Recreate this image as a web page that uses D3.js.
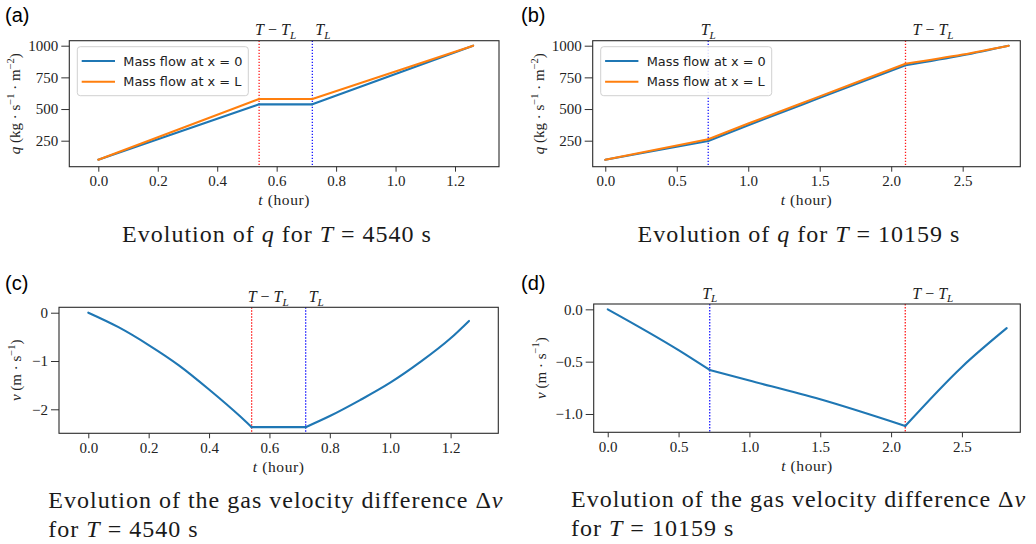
<!DOCTYPE html>
<html>
<head>
<meta charset="utf-8">
<script src="https://cdn.jsdelivr.net/npm/d3@7"></script>
<style>
  body { margin: 0; background: #fff; }
  svg { display: block; }
</style>
</head>
<body>
<svg id="fig" width="1036" height="544"></svg>
<script>
// ---- data ----
const hoursA   = [0, 0.541, 0.72, 1.261];
const qInletA  = [100, 537, 537, 1000];
const qOutletA = [100, 579, 579, 1000];

const hoursB   = [0, 0.72, 1.0, 1.5, 2.1, 2.5, 2.822];
const qInletB  = [100, 248, 372, 588, 845, 924, 1000];
const qOutletB = [100, 262, 385, 600, 858, 930, 1000];

const hoursC = [0, 0.1, 0.2, 0.3, 0.4, 0.5, 0.541, 0.72, 0.8, 0.9, 1.0, 1.1, 1.2, 1.261];
const dvC    = [0, -0.30, -0.67, -1.09, -1.59, -2.13, -2.37, -2.37, -2.14, -1.81, -1.45, -1.02, -0.53, -0.17];

const hoursD = [0, 0.5, 0.72, 1.0, 1.5, 2.1, 2.5, 2.816];
const dvD    = [0, -0.39, -0.58, -0.68, -0.86, -1.115, -0.55, -0.18];

// T_L and T - T_L (hours)
const marksShort = { TL: 0.72, TmTL: 0.541 };   // T = 4540 s
const marksLong  = { TL: 0.72, TmTL: 2.10 };    // T = 10159 s

const xTicksShort = [0, 0.2, 0.4, 0.6, 0.8, 1.0, 1.2];
const xTicksLong  = [0, 0.5, 1.0, 1.5, 2.0, 2.5];
const qTicks      = [250, 500, 750, 1000];
const dvTicksC    = [0, -1, -2];
const dvTicksD    = [0, -0.5, -1.0];

const seriesNames = ["Mass flow at x = 0", "Mass flow at x = L"];

const C_BLUE = "#1f77b4", C_ORANGE = "#ff7f0e";
const SERIF = "'Liberation Serif', 'DejaVu Serif', serif";
const SANS  = "'DejaVu Sans', sans-serif";

const svg = d3.select("#fig");

// text with italic / sup / sub parts: [[str, kind]]
function richText(sel, parts, size) {
  let shift = 0;
  parts.forEach(([s, kind]) => {
    const t = sel.append("tspan").text(s);
    let target = 0, fs = size;
    if (kind && kind.includes("sup")) { target = -0.42 * size; fs = size * 0.7; }
    if (kind && kind.includes("sub")) { target = 0.24 * size; fs = size * 0.7; }
    if (kind && kind.includes("i")) t.attr("font-style", "italic");
    t.attr("font-size", fs).attr("dy", target - shift);
    shift = target;
  });
  return sel;
}

const Q_LABEL = [["q", "i"], [" (kg · s"], ["−1", "sup"], [" · m"], ["−2", "sup"], [")"]];
const V_LABEL = [["v", "i"], [" (m · s"], ["−1", "sup"], [")"]];
const TM_LABEL = [["T", "i"], [" − "], ["T", "i"], ["L", "i sub"]];
const TL_LABEL = [["T", "i"], ["L", "i sub"]];

const panels = [
  {
    tag: "(a)", tagX: 5, tagY: 22,
    box: [69.3, 499, 40.7, 166.7], xDomain: [-0.0976, 1.348], yDomain: [44.7, 1039.5],
    xTicks: xTicksShort, yTicks: qTicks, xFmt: d3.format(".1f"), yFmt: d3.format("d"),
    series: [{ x: hoursA, y: qInletA, c: C_BLUE }, { x: hoursA, y: qOutletA, c: C_ORANGE }],
    marks: marksShort, tmLabel: { anchor: "start", dx: -4 }, tlLabel: { anchor: "start", dx: 3 },
    ylabel: Q_LABEL, ylabelX: 20, legend: true,
    title: [[["Evolution of "], ["q", "i"], [" for "], ["T", "i"], [" = 4540 s"]]], titleX: 277, titleAnchor: "middle", titleY: 241.7
  },
  {
    tag: "(b)", tagX: 521, tagY: 22,
    box: [592.7, 1020.3, 40.7, 166.7], xDomain: [-0.088, 2.903], yDomain: [44.7, 1039.5],
    xTicks: xTicksLong, yTicks: qTicks, xFmt: d3.format(".1f"), yFmt: d3.format("d"),
    series: [{ x: hoursB, y: qInletB, c: C_BLUE }, { x: hoursB, y: qOutletB, c: C_ORANGE }],
    marks: marksLong, tmLabel: { anchor: "start", dx: 7 }, tlLabel: { anchor: "middle", dx: 0 },
    ylabel: Q_LABEL, ylabelX: 544, legend: true,
    title: [[["Evolution of "], ["q", "i"], [" for "], ["T", "i"], [" = 10159 s"]]], titleX: 799, titleAnchor: "middle", titleY: 241.7
  },
  {
    tag: "(c)", tagX: 5, tagY: 290,
    box: [59, 498.3, 307.3, 433.3], xDomain: [-0.097, 1.358], yDomain: [-2.497, 0.112],
    xTicks: xTicksShort, yTicks: dvTicksC, xFmt: d3.format(".1f"), yFmt: d3.format("d"),
    series: [{ x: hoursC, y: dvC, c: C_BLUE }],
    marks: marksShort, tmLabel: { anchor: "start", dx: -4 }, tlLabel: { anchor: "start", dx: 3 },
    ylabel: V_LABEL, ylabelX: 21, legend: false,
    title: [[["Evolution of the gas velocity difference Δ"], ["v", "i"]], [["for "], ["T", "i"], [" = 4540 s"]]],
    titleX: 48.3, titleAnchor: "start", titleY: 508.3
  },
  {
    tag: "(d)", tagX: 521, tagY: 290,
    box: [593.7, 1020.3, 304, 432.3], xDomain: [-0.099, 2.912], yDomain: [-1.175, 0.051],
    xTicks: xTicksLong, yTicks: dvTicksD, xFmt: d3.format(".1f"), yFmt: d3.format(".1f"),
    series: [{ x: hoursD, y: dvD, c: C_BLUE }],
    marks: marksLong, tmLabel: { anchor: "start", dx: 7 }, tlLabel: { anchor: "middle", dx: 0 },
    ylabel: V_LABEL, ylabelX: 545.5, legend: false,
    title: [[["Evolution of the gas velocity difference Δ"], ["v", "i"]], [["for "], ["T", "i"], [" = 10159 s"]]],
    titleX: 571, titleAnchor: "start", titleY: 507.3
  }
];

// split a series at the T_L / T - T_L kinks so each piece can be smoothed on its own
function pieces(xs, ys, breaks) {
  const pts = d3.zip(xs, ys), out = [];
  let cur = [];
  pts.forEach(pt => {
    cur.push(pt);
    if (breaks.some(b => Math.abs(b - pt[0]) < 1e-3)) { out.push(cur); cur = [pt]; }
  });
  if (cur.length > 1) out.push(cur);
  return out;
}

panels.forEach(p => {
  const [x0, x1, y0, y1] = p.box;
  const x = d3.scaleLinear().domain(p.xDomain).range([x0, x1]);
  const y = d3.scaleLinear().domain(p.yDomain).range([y1, y0]);
  const g = svg.append("g");

  // panel tag
  g.append("text").attr("x", p.tagX).attr("y", p.tagY)
    .attr("font-family", "'Liberation Sans', Arial, sans-serif").attr("font-size", 20)
    .text(p.tag);

  // axes
  const xa = g.append("g").attr("transform", `translate(0,${y1})`)
    .call(d3.axisBottom(x).tickValues(p.xTicks).tickFormat(p.xFmt).tickSize(5).tickPadding(4));
  const ya = g.append("g").attr("transform", `translate(${x0},0)`)
    .call(d3.axisLeft(y).tickValues(p.yTicks).tickFormat(p.yFmt).tickSize(8).tickPadding(3));
  [xa, ya].forEach(a => {
    a.select(".domain").remove();
    a.selectAll("line").attr("stroke", "#333").attr("stroke-width", 1);
    a.selectAll("text").attr("font-family", SERIF).attr("font-size", 15).attr("fill", "#222");
  });

  // clip + lines
  const clipId = "clip" + p.tag.replace(/\W/g, "");
  g.append("clipPath").attr("id", clipId).append("rect")
    .attr("x", x0).attr("y", y0).attr("width", x1 - x0).attr("height", y1 - y0);
  const plot = g.append("g").attr("clip-path", `url(#${clipId})`);

  plot.append("line").attr("x1", x(p.marks.TmTL)).attr("x2", x(p.marks.TmTL))
    .attr("y1", y0).attr("y2", y1).attr("stroke", "#ff1a1a").attr("stroke-width", 1.3)
    .attr("stroke-dasharray", "1.4,1.6");
  plot.append("line").attr("x1", x(p.marks.TL)).attr("x2", x(p.marks.TL))
    .attr("y1", y0).attr("y2", y1).attr("stroke", "#1a1aff").attr("stroke-width", 1.3)
    .attr("stroke-dasharray", "1.4,1.6");

  const line = d3.line().x(d => x(d[0])).y(d => y(d[1])).curve(d3.curveMonotoneX);
  p.series.forEach(s => {
    pieces(s.x, s.y, [p.marks.TL, p.marks.TmTL]).forEach(seg => {
      plot.append("path").datum(seg).attr("d", line)
        .attr("fill", "none").attr("stroke", s.c).attr("stroke-width", 2.1)
        .attr("stroke-linecap", "round").attr("stroke-linejoin", "round");
    });
  });

  // frame
  g.append("rect").attr("x", x0).attr("y", y0).attr("width", x1 - x0).attr("height", y1 - y0)
    .attr("fill", "none").attr("stroke", "#2b2b2b").attr("stroke-width", 1.1);

  // marker labels
  richText(g.append("text").attr("x", x(p.marks.TmTL) + p.tmLabel.dx).attr("y", y0 - 5.5)
    .attr("text-anchor", p.tmLabel.anchor).attr("font-family", SERIF).attr("fill", "#222"), TM_LABEL, 16);
  richText(g.append("text").attr("x", x(p.marks.TL) + p.tlLabel.dx).attr("y", y0 - 5.5)
    .attr("text-anchor", p.tlLabel.anchor).attr("font-family", SERIF).attr("fill", "#222"), TL_LABEL, 16);

  // axis labels
  richText(g.append("text").attr("x", (x0 + x1) / 2).attr("y", y1 + 38.5)
    .attr("text-anchor", "middle").attr("font-family", SERIF).attr("fill", "#222")
    .attr("letter-spacing", 0.6), [["t", "i"], [" (hour)"]], 15.5);
  richText(g.append("text")
    .attr("transform", `translate(${p.ylabelX},${(y0 + y1) / 2}) rotate(-90)`)
    .attr("text-anchor", "middle").attr("font-family", SERIF).attr("fill", "#222"), p.ylabel, 15);

  // legend
  if (p.legend) {
    const lx = x0 + 8, ly = y0 + 6;
    const lg = g.append("g").attr("transform", `translate(${lx},${ly})`);
    lg.append("rect").attr("width", 171).attr("height", 49).attr("rx", 3)
      .attr("fill", "white").attr("fill-opacity", 0.85).attr("stroke", "#d0d0d0");
    p.series.forEach((s, i) => {
      const ry = 14.3 + i * 20.7;
      lg.append("line").attr("x1", 4.4).attr("x2", 37.7).attr("y1", ry).attr("y2", ry)
        .attr("stroke", s.c).attr("stroke-width", 2.1);
      lg.append("text").attr("x", 46).attr("y", ry + 4.6)
        .attr("font-family", SANS).attr("font-size", 12.9).attr("fill", "#222")
        .text(seriesNames[i]);
    });
  }

  // caption
  p.title.forEach((ln, i) => {
    richText(g.append("text").attr("x", p.titleX).attr("y", p.titleY + i * 28.4)
      .attr("text-anchor", p.titleAnchor).attr("font-family", SERIF).attr("fill", "#1a1a1a")
      .attr("letter-spacing", 1.0), ln, 24);
  });
});
</script>
</body>
</html>
